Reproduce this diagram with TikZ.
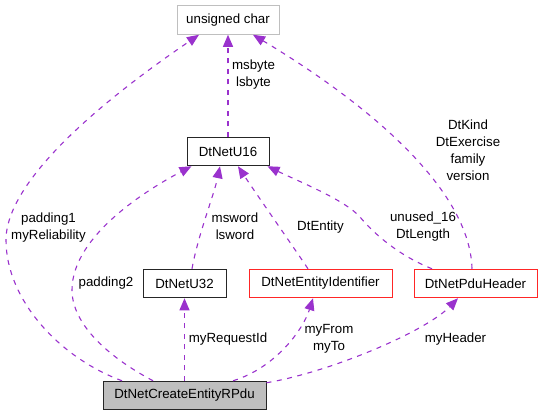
\documentclass[tikz,border=0pt]{standalone}
\usepackage{fontspec}
\setmainfont{Liberation Sans}
\usetikzlibrary{arrows.meta}
\definecolor{edgecol}{HTML}{9A32CD}
\definecolor{boxgray}{HTML}{BFBFBF}
\tikzset{
  cls/.style={draw, line width=1pt, minimum height=28.5pt, inner sep=0pt, font=\fontsize{13.3}{17}\selectfont, anchor=center},
  blackbox/.style={cls, draw=black!85},
  redbox/.style={cls, draw=red!85},
  graybox/.style={cls, draw=boxgray},
  mainbox/.style={cls, draw=black!85, fill=boxgray},
  uses/.style={draw=edgecol, line width=1.1pt, dash pattern=on 5pt off 5.5pt, -{Triangle[length=12pt,width=10pt]}},
  lbl/.style={font=\fontsize{13.3}{17}\selectfont, align=center, inner sep=0pt}
}
\begin{document}
\begin{tikzpicture}[x=1pt,y=-1pt]
\useasboundingbox (0,0) rectangle (543,416);
% nodes
\node[graybox, minimum width=102pt] (uchar) at (228,20) {unsigned char};
\node[blackbox, minimum width=82pt] (u16) at (228,151.5) {DtNetU16};
\node[blackbox, minimum width=83pt] (u32) at (184.5,283.5) {DtNetU32};
\node[redbox, minimum width=143pt] (eid) at (320.5,283.5) {DtNetEntityIdentifier};
\node[redbox, minimum width=123pt] (pdu) at (475.5,283.5) {DtNetPduHeader};
\node[mainbox, minimum width=163pt] (create) at (184.5,395.5) {DtNetCreateEntityRPdu};
% edges
\draw[uses] (u16.north) -- (uchar.south);
\node[lbl] (l1) at (253.5,75) {msbyte\\lsbyte};

\draw[uses] ([xshift=-62.5pt]create.north) .. controls (60,358) and (6,300) .. (6,240)
  .. controls (6,170) and (140,75) .. ([xshift=-29pt]uchar.south);
\node[lbl] (l2) at (48.5,227.5) {padding1\\myReliability};

\draw[uses] ([xshift=-31.5pt]create.north) .. controls (110,358) and (72,325) .. (72,290)
  .. controls (72,235) and (150,188) .. ([xshift=5pt]u16.south west);
\node[lbl] (l3) at (106,283) {padding2};

\draw[uses] ([xshift=7.5pt]u32.north) .. controls (198,235) and (214,195) .. ([xshift=-8pt]u16.south);
\node[lbl] (l4) at (235,226.5) {msword\\lsword};

\draw[uses] ([xshift=-12.5pt]eid.north) .. controls (292,245) and (255,192) .. ([xshift=10pt]u16.south);
\node[lbl] (l5) at (320.5,227) {DtEntity};

\draw[uses] ([xshift=-43.5pt]pdu.north) .. controls (400,256) and (375,235) .. (360,217)
  .. controls (345,200) and (300,182) .. ([xshift=-2pt]u16.south east);
\node[lbl] (l6) at (423,226.5) {unused\_16\\DtLength};

\draw[uses] ([xshift=-3.5pt]pdu.north) .. controls (470,190) and (370,105) .. ([xshift=25pt]uchar.south);
\node[lbl] (l7) at (468,150.5) {DtKind\\DtExercise\\family\\version};

\draw[uses] (create.north) -- (u32.south);
\node[lbl] (l8) at (228,339) {myRequestId};

\draw[uses] ([xshift=48.5pt]create.north) .. controls (275,368) and (303,330) .. ([xshift=-7.5pt]eid.south);
\node[lbl] (l9) at (329,339) {myFrom\\myTo};

\draw[uses] ([yshift=-2pt]create.north east) .. controls (330,372) and (425,332) .. ([xshift=-17.5pt]pdu.south);
\node[lbl] (l10) at (455.5,339) {myHeader};
\end{tikzpicture}
\end{document}
